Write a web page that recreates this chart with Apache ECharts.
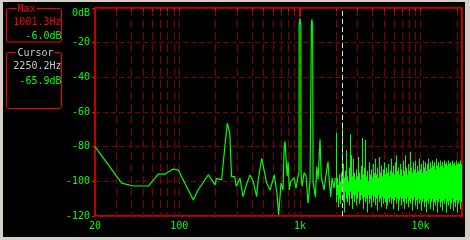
<!DOCTYPE html>
<html><head><meta charset="utf-8">
<script src="https://cdn.jsdelivr.net/npm/echarts@6/dist/echarts.min.js"></script>
<style>
html,body{margin:0;padding:0;background:#d4d0c8;width:470px;height:240px;overflow:hidden}
#bg{position:absolute;left:3px;top:2px;width:462px;height:235px;background:#000}
#chart{position:absolute;left:0;top:0;width:470px;height:240px}
</style></head><body><div id="bg"></div><div id="chart"></div>
<script>
const FONT = 'DejaVu Sans Mono';

// readouts
const maxFreqText = '1001.3Hz', maxDbText = '-6.0dB';
const cursorFreqText = '2250.2Hz', cursorDbText = '-65.9dB';
const maxFreq = 1001.3, cursorFreq = 2250.2;

// axis ticks / labels
const gridFreqs = [30,40,50,60,70,80,90,100,200,300,400,500,600,700,800,900,1000,2000,3000,4000,5000,6000,7000,8000,9000,10000,20000];
const xLabelValues = [20,100,1000,10000];
const xLabelTexts = ['20','100','1k','10k'];

// spectrum trace, low part (Hz, dB)
const lowFreq = [20,33.3,41.5,55.3,67,76,89,98,130.7,143,174,185,198,203,224,232,240,250,262,271,288,297,318,337,360,385,410,437,451,482,497,530,566,613,645,666,697];
const lowDb   = [-80,-101,-102.7,-102.7,-95.8,-95.8,-92.9,-93.5,-110.8,-105,-96.3,-99,-102,-98.3,-99.2,-88.7,-78,-66.5,-72,-97.3,-97.3,-103,-98,-108.8,-102,-96.3,-100,-108.8,-99.2,-86.7,-86,-101,-105,-96.3,-107,-119.4,-101];

// spectrum trace, middle part
const midFreq = [724,740,752,765,784,798,817,840,860,894,928,965,983,985,1001.3,1018,1021,1041,1082,1124,1168,1213,1236,1245,1255,1265,1275,1284,1309,1340,1380,1413,1468,1500,1540,1584,1646,1710,1750,1800,1846,1918,1960];
const midDb   = [-105,-80,-77,-76,-97,-88.7,-105,-100,-101,-98,-104,-97,-95,-10,-6,-10,-95,-103,-95,-97,-112.6,-100,-100,-10,-6.5,-6.3,-10,-100,-99,-109,-91.5,-99,-75.8,-97,-101,-105,-96,-88.7,-100,-109,-98,-104,-98];

// dense high part: per display column, frequency with max and min level
const colFreq = [
  1992,2031,2070,2110,2151,2192,2250.2,2277,2321,2366,
  2412,2458,2505,2554,2604,2654,2705,2757,2810,2864,
  2919,2976,3033,3091,3150,3211,3273,3336,3400,3466,
  3533,3601,3670,3741,3812,3886,3961,4037,4115,4194,
  4275,4357,4441,4527,4614,4703,4793,4886,4980,5075,
  5173,5273,5374,5478,5585,5691,5801,5912,6026,6145,
  6261,6382,6505,6630,6761,6891,7024,7159,7297,7439,
  7581,7727,7876,8027,8184,8341,8500,8664,8831,9004,
  9178,9354,9534,9718,9906,10095,10290,10488,10689,10898,
  11106,11318,11537,11760,11990,12219,12455,12696,12940,13191,
  13443,13703,13967,14234,14513,14791,15072,15363,15659,15967,
  16270,16583,16906,17233,17567,17901,18246,18598,18954,19327,
  19697,20070,20460,20855,21261,21666,22050];
const colTop = [
  -72,-98,-102,-96,-100,-95,-65.9,-90,-98,-94,
  -82,-97,-100,-92,-73,-85,-97,-87,-95,-99,
  -93,-97,-86,-95,-99,-91,-75,-96,-92,-76,
  -97,-94,-100,-89,-96,-93,-98,-90,-95,-87,
  -96,-92,-98,-86,-95,-91,-97,-93,-89,-96,
  -92,-95,-90,-97,-94,-87,-95,-91,-96,-89,
  -85,-94,-92,-96,-90,-93,-97,-88,-94,-85,
  -92,-96,-90,-94,-83,-92,-95,-89,-93,-88,
  -95,-91,-94,-87,-93,-90,-95,-88,-92,-89,
  -94,-90,-87,-93,-89,-92,-88,-91,-89,-93,
  -87,-91,-89,-92,-88,-91,-89,-92,-88,-90,
  -89,-91,-88,-90,-89,-91,-88,-90,-89,-91,
  -88,-90,-89,-90,-88,-90,-89];
const colBottom = [
  -112,-108,-115,-110,-113,-106,-104,-112,-118,-106,
  -110,-112,-108,-114,-106,-110,-116,-108,-112,-108,
  -114,-110,-106,-113,-111,-108,-110,-116,-109,-112,
  -110,-118,-108,-113,-110,-115,-108,-112,-109,-114,
  -110,-117,-108,-112,-110,-115,-109,-113,-110,-112,
  -116,-114,-110,-112,-109,-113,-110,-116,-111,-109,
  -113,-110,-117,-111,-109,-114,-110,-112,-116,-110,
  -113,-109,-115,-111,-113,-110,-117,-111,-109,-114,
  -111,-116,-110,-113,-111,-117,-112,-110,-115,-112,
  -118,-111,-113,-110,-116,-112,-110,-117,-112,-114,
  -111,-118,-112,-110,-115,-112,-117,-111,-113,-110,
  -118,-112,-114,-111,-116,-113,-110,-117,-112,-115,
  -111,-118,-113,-111,-116,-112,-110];

function pairs(fs, ds){ const n=Math.min(fs.length, ds.length); const out=[]; for(let i=0;i<n;i++) out.push([fs[i], ds[i]]); return out; }
const trace = pairs(lowFreq, lowDb).concat(pairs(midFreq, midDb));
const nCol = Math.min(colFreq.length, colTop.length, colBottom.length);
const columns = [];
for (let i=0;i<nCol;i++) columns.push([colFreq[i], colTop[i], colBottom[i]]);

const RED = '#ff0000', GRID = '#800000', GREEN = '#00ff00', GRAY = '#c8c8c8';
const txt = (text, x, y, fill, align, bg) => ({
  type:'text', x, y, z:10,
  style:{ text, fill, font:'10px "' + FONT + '"', align, verticalAlign:'middle',
          backgroundColor: bg || null, padding: bg ? [0,1] : 0 }
});

const chart = echarts.init(document.getElementById('chart'), null, {renderer:'canvas'});
chart.setOption({
  animation:false,
  backgroundColor:'transparent',
  grid:{left:95, top:8, width:367, height:208, show:true, borderColor:RED, borderWidth:1.5, backgroundColor:'transparent'},
  xAxis:{
    type:'log', logBase:10, min:20, max:22050,
    axisLine:{show:false},
    axisTick:{show:true, customValues:gridFreqs, length:3, lineStyle:{color:RED}},
    splitLine:{show:true, lineStyle:{color:GRID, type:[8,4], width:1}},
    minorTick:{show:false}, minorSplitLine:{show:false},
    axisLabel:{customValues:xLabelValues, color:GREEN, fontFamily:FONT, fontSize:10, margin:5,
      formatter:(v)=>{ const i = xLabelValues.findIndex(x=>Math.abs(x-v)<1e-6); return i>=0 ? xLabelTexts[i] : ''; }}
  },
  yAxis:{
    type:'value', min:-120, max:0, interval:20,
    axisLine:{show:false},
    axisTick:{show:true, length:3, lineStyle:{color:RED}},
    splitLine:{show:true, lineStyle:{color:GRID, type:[5,3], width:1}},
    axisLabel:{color:GREEN, fontFamily:FONT, fontSize:10, margin:5, verticalAlignMaxLabel:'top',
      formatter:(v)=> v===0 ? '0dB' : String(v)}
  },
  graphic:[
    {type:'rect', z:5, shape:{x:6.5, y:8.5, width:55, height:33.5, r:2}, style:{fill:null, stroke:RED, lineWidth:1}},
    txt('Max', 16.5, 9, RED, 'left', '#000'),
    txt(maxFreqText, 61.5, 22.5, RED, 'right'),
    txt(maxDbText, 61.5, 36, GREEN, 'right'),
    {type:'rect', z:5, shape:{x:6.5, y:52.5, width:55, height:56, r:2}, style:{fill:null, stroke:RED, lineWidth:1}},
    txt('Cursor', 16.5, 53, GRAY, 'left', '#000'),
    txt(cursorFreqText, 61.5, 66, GRAY, 'right'),
    txt(cursorDbText, 61.5, 81, GREEN, 'right')
  ],
  series:[
    {
      type:'custom', coordinateSystem:'cartesian2d', silent:true, z:2, clip:true,
      data:columns, encode:{x:0, y:[1,2]},
      renderItem:(params, api)=>{
        const a = api.coord([api.value(0), api.value(1)]);
        const b = api.coord([api.value(0), api.value(2)]);
        return {type:'rect', shape:{x:Math.floor(a[0]), y:a[1], width:1, height:b[1]-a[1]}, style:{fill:GREEN}};
      }
    },
    {
      type:'line', data:trace, symbol:'none', z:3, silent:true, clip:true,
      lineStyle:{color:GREEN, width:1.2},
      markLine:{
        silent:true, symbol:['none','none'], label:{show:false}, z:4,
        data:[
          {xAxis:cursorFreq, lineStyle:{color:'#e0e0e0', type:[5,3], width:1}},
          [{coord:[maxFreq,0], lineStyle:{color:RED, type:'solid', width:1.5}}, {coord:[maxFreq,-5]}]
        ]
      }
    }
  ]
});
</script></body></html>
